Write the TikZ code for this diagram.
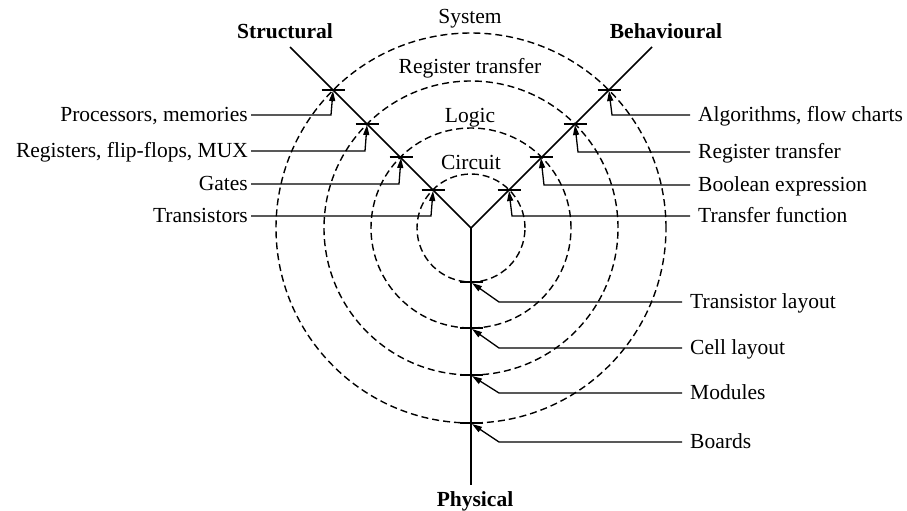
\documentclass[tikz,border=0pt]{standalone}
\usepackage{fontspec}
\setmainfont{Liberation Serif}
\usetikzlibrary{arrows.meta}
\begin{document}
\begin{tikzpicture}[x=1pt,y=-1pt,
  lab/.style={inner sep=0pt,font=\fontsize{21.5}{26}\selectfont,text height=16pt,text depth=4pt},
  ttl/.style={lab,font=\fontsize{21.5}{26}\selectfont\bfseries},
  axis/.style={line width=1.5pt},
  ring/.style={line width=1.4pt,dash pattern=on 7pt off 4pt},
  tick/.style={line width=2.2pt},
  lead/.style={line width=1.3pt},
  arr/.style={lead,-{Triangle[length=10pt,width=6pt]}}]
\useasboundingbox (0,0) rectangle (907,511);
\coordinate (c) at (471,228);
\coordinate (sEnd) at (290,47);
\coordinate (bEnd) at (652,47);
\coordinate (pEnd) at (471,485);
% rings
\foreach \r in {54,100,147,195} \draw[ring] (c) circle[radius=\r pt];
% axes
\draw[axis] (sEnd) -- (c) -- (bEnd);
\draw[axis] (c) -- (pEnd);
% tick points
\coordinate (s4) at (333,90); \coordinate (s3) at (367,124);
\coordinate (s2) at (401,157); \coordinate (s1) at (433,190);
\coordinate (b4) at (609,90); \coordinate (b3) at (575,124);
\coordinate (b2) at (541,157); \coordinate (b1) at (509,190);
\coordinate (p1) at (471,282); \coordinate (p2) at (471,328);
\coordinate (p3) at (471,375); \coordinate (p4) at (471,423);
\foreach \t in {s1,s2,s3,s4,b1,b2,b3,b4,p1,p2,p3,p4}
  \draw[tick] ([xshift=-11.5pt]\t) -- ([xshift=11.5pt]\t);
% titles
\node[ttl] (tS) at (285,33) {Structural};
\node[ttl] (tB) at (666,33) {Behavioural};
\node[ttl] (tP) at (475,500) {Physical};
% ring names
\node[lab] (nSys) at (470,18) {System};
\node[lab] (nRT) at (470,68) {Register transfer};
\node[lab] (nLog) at (470,116) {Logic};
\node[lab] (nCir) at (471,163) {Circuit};
% left labels
\node[lab,anchor=east] (l4) at (248,115) {Processors, memories};
\node[lab,anchor=east] (l3) at (248,151) {Registers, flip-flops, MUX};
\node[lab,anchor=east] (l2) at (248,184) {Gates};
\node[lab,anchor=east] (l1) at (248,216) {Transistors};
% right labels
\node[lab,anchor=west] (r4) at (698,115) {Algorithms, flow charts};
\node[lab,anchor=west] (r3) at (698,152) {Register transfer};
\node[lab,anchor=west] (r2) at (698,185) {Boolean expression};
\node[lab,anchor=west] (r1) at (698,216) {Transfer function};
% physical labels
\node[lab,anchor=west] (q1) at (690,302) {Transistor layout};
\node[lab,anchor=west] (q2) at (690,348) {Cell layout};
\node[lab,anchor=west] (q3) at (690,393) {Modules};
\node[lab,anchor=west] (q4) at (690,442) {Boards};
% leaders
\foreach \l/\t in {l4/s4,l3/s3,l2/s2,l1/s1}
  \draw[arr] ([xshift=3pt]\l.east) -- ([xshift=-2pt]\t |- \l.east) -- ([yshift=-1pt]\t);
\foreach \l/\t in {r4/b4,r3/b3,r2/b2,r1/b1}
  \draw[arr] ([xshift=-8pt]\l.west) -- ([xshift=3pt]\t |- \l.west) -- ([yshift=-1pt]\t);
\foreach \l/\t in {q1/p1,q2/p2,q3/p3,q4/p4}
  \draw[arr] ([xshift=-8pt]\l.west) -- ([xshift=28pt]\t |- \l.west) -- ([xshift=1pt,yshift=-1pt]\t);
\end{tikzpicture}
\end{document}
